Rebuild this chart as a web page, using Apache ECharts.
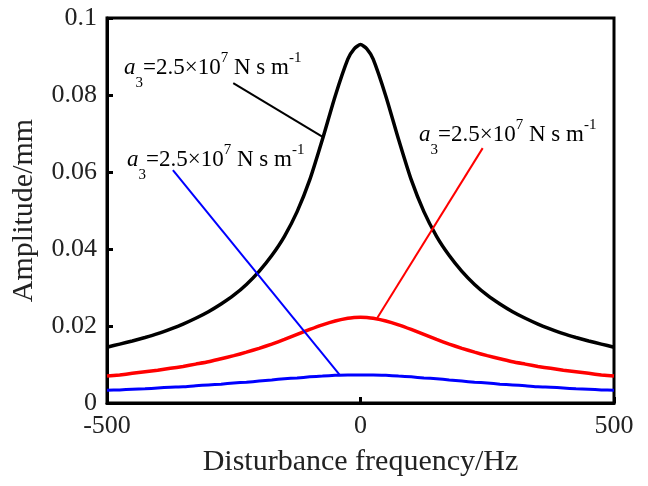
<!DOCTYPE html>
<html>
<head>
<meta charset="utf-8">
<script src="https://cdn.jsdelivr.net/npm/echarts@6/dist/echarts.min.js"></script>
<style>
html, body { margin: 0; padding: 0; background: #fff; }
#chart { width: 648px; height: 486px; }
</style>
</head>
<body>
<div id="chart"></div>
<script>
var freq = [-500, -475, -450, -425, -400, -375, -350, -325, -300, -275, -250, -225, -200, -175, -150, -125, -100, -75, -50, -25, -12.5,
	0, 12.5, 25, 50, 75, 100, 125, 150, 175, 200, 225, 250, 275, 300, 325, 350, 375, 400, 425, 450, 475, 500];
var blackAmp = [0.0145, 0.0153, 0.0161, 0.0170, 0.0180, 0.0192, 0.0205, 0.0220, 0.0237, 0.0257, 0.0280, 0.0308, 0.0342, 0.0383, 0.0433, 0.0497, 0.0580, 0.0685, 0.0797, 0.0893, 0.0920,
	0.0931, 0.0920, 0.0893, 0.0797, 0.0685, 0.0580, 0.0497, 0.0433, 0.0383, 0.0342, 0.0308, 0.0280, 0.0257, 0.0237, 0.0220, 0.0205, 0.0192, 0.0180, 0.0170, 0.0161, 0.0153, 0.0145];
var redAmp = [0.0070, 0.0073, 0.0077, 0.0081, 0.0085, 0.0090, 0.0095, 0.0101, 0.0107, 0.0115, 0.0123, 0.0132, 0.0142, 0.0153, 0.0165, 0.0178, 0.0191, 0.0203, 0.0213, 0.0220, 0.0222,
	0.0223, 0.0222, 0.0220, 0.0213, 0.0203, 0.0191, 0.0178, 0.0165, 0.0153, 0.0142, 0.0132, 0.0123, 0.0115, 0.0107, 0.0101, 0.0095, 0.0090, 0.0085, 0.0081, 0.0077, 0.0073, 0.0070];
var blueAmp = [0.0033, 0.0034, 0.0036, 0.0037, 0.0039, 0.0041, 0.0042, 0.0045, 0.0047, 0.0049, 0.0052, 0.0054, 0.0057, 0.0060, 0.0063, 0.0065, 0.0068, 0.0070, 0.0072, 0.0073, 0.0073,
	0.0073, 0.0073, 0.0073, 0.0072, 0.0070, 0.0068, 0.0065, 0.0063, 0.0060, 0.0057, 0.0054, 0.0052, 0.0049, 0.0047, 0.0045, 0.0042, 0.0041, 0.0039, 0.0037, 0.0036, 0.0034, 0.0033];
// leader lines for the labels: [start, end] in data units
var blackLeader = [[-251, 0.0831], [-73, 0.0690]];
var redLeader = [[241, 0.0662], [33, 0.0221]];
var blueLeader = [[-370, 0.0605], [-41, 0.0073]];
var xTicks = [-500, 500, 500];   // min, max, interval
var yTicks = [0, 0.1, 0.02];

var serif = "'Liberation Serif', 'Times New Roman', serif";

function pairs(ys) {
	return freq.map(function(f, i) { return [f, ys[i]]; });
}

function leader(pts) {
	return {
		silent: true,
		symbol: 'none',
		animation: false,
		label: { show: false },
		lineStyle: { type: 'solid', width: 2 },
		data: [[{ coord: pts[0] }, { coord: pts[1] }]]
	};
}

function curve(name, color, width, ys, pts) {
	return {
		name: name,
		type: 'line',
		data: pairs(ys),
		smooth: 0.2,
		showSymbol: false,
		symbol: 'none',
		animation: false,
		lineStyle: { color: color, width: width },
		itemStyle: { color: color },
		markLine: leader(pts),
		z: 3
	};
}

var labelRich = {
	a: { fontFamily: serif, fontSize: 23, fontStyle: 'italic', lineHeight: 23, verticalAlign: 'top', padding: [8, 0, 0, 0], color: '#000' },
	n: { fontFamily: serif, fontSize: 23, lineHeight: 23, verticalAlign: 'top', padding: [8, 0, 0, 0], color: '#000' },
	sub: { fontFamily: serif, fontSize: 15, lineHeight: 15, verticalAlign: 'top', padding: [28, 0, 0, 0], color: '#000' },
	sup: { fontFamily: serif, fontSize: 15, lineHeight: 15, verticalAlign: 'top', padding: [3, 0, 0, 0], color: '#000' }
};
var labelText = '{a|a}{sub|3}{n|=2.5×10}{sup|7}{n| N s m}{sup|-1}';

function note(x, y) {
	return {
		type: 'text',
		left: x,
		top: y,
		silent: true,
		style: { text: labelText, rich: labelRich }
	};
}

var myChart = echarts.init(document.getElementById('chart'));
var option = {
	backgroundColor: '#fff',
	animation: false,
	grid: {
		left: 107,
		right: 34,
		top: 18,
		bottom: 83,
		show: true,
		borderColor: '#000',
		borderWidth: 3
	},
	xAxis: {
		type: 'value',
		min: xTicks[0],
		max: xTicks[1],
		interval: xTicks[2],
		name: 'Disturbance frequency/Hz',
		nameLocation: 'middle',
		nameGap: 44,
		nameTextStyle: { fontFamily: serif, fontSize: 30, color: '#222' },
		axisLine: { onZero: false, lineStyle: { color: '#000', width: 3 } },
		axisTick: { inside: true, length: 6, lineStyle: { color: '#000', width: 3 } },
		axisLabel: { fontFamily: serif, fontSize: 26, color: '#222', margin: 10 },
		splitLine: { show: false }
	},
	yAxis: {
		type: 'value',
		min: yTicks[0],
		max: yTicks[1],
		interval: yTicks[2],
		name: 'Amplitude/mm',
		nameLocation: 'middle',
		nameGap: 68,
		nameTextStyle: { fontFamily: serif, fontSize: 30, color: '#222' },
		axisLine: { onZero: false, lineStyle: { color: '#000', width: 3 } },
		axisTick: { inside: true, length: 6, lineStyle: { color: '#000', width: 3 } },
		axisLabel: { fontFamily: serif, fontSize: 26, color: '#222', margin: 10 },
		splitLine: { show: false }
	},
	series: [
		curve('black', '#000000', 3.5, blackAmp, blackLeader),
		curve('red', '#ff0000', 3.5, redAmp, redLeader),
		curve('blue', '#0000ff', 3, blueAmp, blueLeader)
	],
	graphic: [
		note(124, 48),
		note(419, 115),
		note(127, 140)
	]
};
myChart.setOption(option);
</script>
</body>
</html>
